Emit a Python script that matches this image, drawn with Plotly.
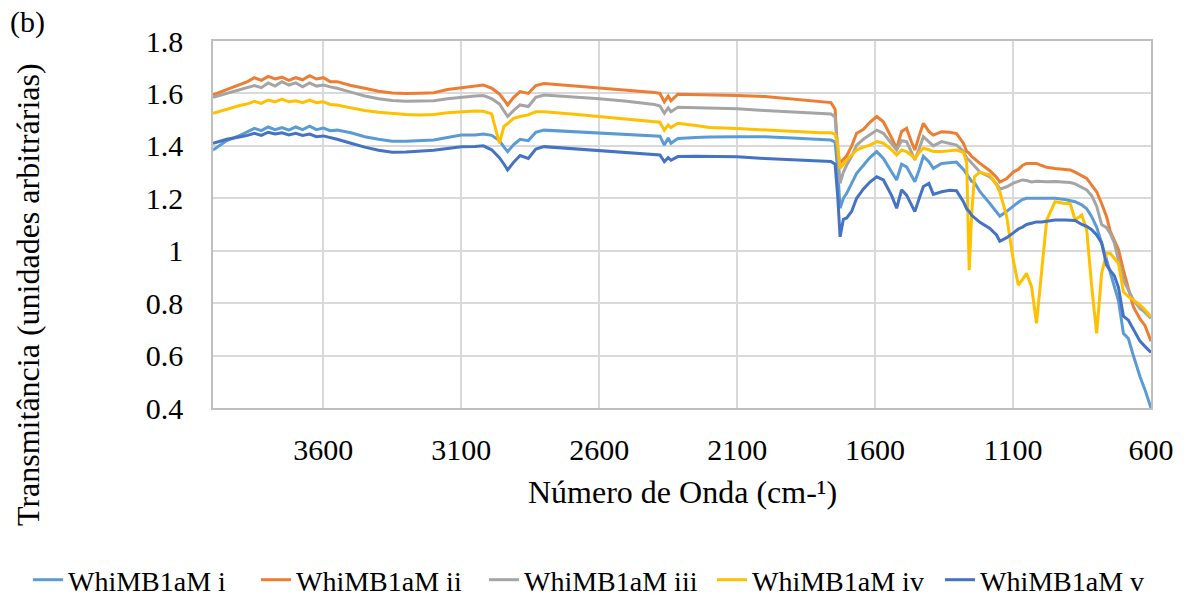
import plotly.graph_objects as go

wavenumber = [
    4000, 3950, 3900, 3875, 3850, 3825, 3800, 3775, 3750, 3725, 3700, 3675, 3650, 3625, 3600, 3575,
    3550, 3500, 3450, 3400, 3350, 3300, 3250, 3200, 3150, 3100, 3050, 3020, 2990,
    2962, 2945, 2932, 2910, 2887, 2857, 2830, 2800,
    2700, 2600, 2500, 2400, 2380, 2364, 2350, 2340, 2315, 2250, 2200, 2100, 2000, 1900, 1800,
    1760, 1745, 1735, 1727, 1715, 1703, 1685, 1667, 1643, 1619, 1594, 1570, 1540, 1522, 1504, 1486,
    1470, 1456, 1440, 1425, 1405, 1389, 1359,
    1330, 1305, 1280, 1268, 1259, 1250, 1240, 1220, 1184, 1160, 1148, 1123, 1099, 1081, 1066, 1051,
    1033, 1015, 996, 978,
    948, 912, 893, 875, 851, 833, 815, 797, 779, 761, 748, 733, 718, 700, 682, 664, 640, 622, 600,
]

whimb_i = [
    1.384, 1.420, 1.441, 1.455, 1.467, 1.458, 1.472, 1.462, 1.470, 1.460, 1.472, 1.462, 1.475, 1.462, 1.468, 1.458,
    1.460, 1.450, 1.435, 1.425, 1.418, 1.418, 1.420, 1.422, 1.432, 1.441, 1.441, 1.445, 1.440,
    1.420, 1.395, 1.378, 1.405, 1.425, 1.420, 1.452, 1.460,
    1.455, 1.450, 1.445, 1.440, 1.437, 1.403, 1.430, 1.410, 1.428, 1.432, 1.434, 1.435, 1.435, 1.430, 1.425,
    1.422, 1.415, 1.300, 1.162, 1.200, 1.219, 1.255, 1.295, 1.325, 1.355, 1.378, 1.352, 1.300, 1.270, 1.330, 1.320,
    1.290, 1.263, 1.310, 1.360, 1.340, 1.314, 1.333,
    1.336, 1.338, 1.310, 1.290, 1.275, 1.265, 1.260, 1.225, 1.180, 1.150, 1.132, 1.150, 1.172, 1.185, 1.195, 1.200,
    1.200, 1.200, 1.198, 1.200,
    1.200, 1.195, 1.190, 1.187, 1.175, 1.160, 1.130, 1.090, 1.030, 0.964, 0.914, 0.856, 0.810, 0.685, 0.665, 0.600, 0.520, 0.470, 0.400,
]

whimb_ii = [
    1.595, 1.615, 1.635, 1.645, 1.660, 1.650, 1.665, 1.655, 1.662, 1.650, 1.660, 1.652, 1.668, 1.655, 1.660, 1.645,
    1.645, 1.630, 1.620, 1.608, 1.602, 1.600, 1.601, 1.603, 1.615, 1.622, 1.628, 1.632, 1.620,
    1.598, 1.575, 1.556, 1.585, 1.607, 1.600, 1.630, 1.638,
    1.630, 1.622, 1.613, 1.604, 1.600, 1.568, 1.590, 1.572, 1.597, 1.596, 1.595, 1.592, 1.588, 1.578, 1.570,
    1.565, 1.540, 1.360, 1.335, 1.350, 1.362, 1.400, 1.448, 1.462, 1.490, 1.512, 1.492, 1.430, 1.390, 1.455, 1.467,
    1.420, 1.384, 1.440, 1.486, 1.455, 1.441, 1.454,
    1.452, 1.447, 1.410, 1.378, 1.372, 1.360, 1.350, 1.333, 1.305, 1.280, 1.262, 1.275, 1.300, 1.310, 1.325, 1.333,
    1.333, 1.333, 1.325, 1.318,
    1.314, 1.310, 1.308, 1.300, 1.285, 1.276, 1.250, 1.225, 1.180, 1.130, 1.075, 1.040, 1.005, 0.926, 0.860, 0.786, 0.740, 0.715, 0.655,
]

whimb_iii = [
    1.585, 1.600, 1.615, 1.625, 1.630, 1.622, 1.640, 1.628, 1.645, 1.632, 1.640, 1.625, 1.640, 1.628, 1.632, 1.625,
    1.620, 1.605, 1.590, 1.580, 1.573, 1.570, 1.570, 1.572, 1.580, 1.586, 1.590, 1.592, 1.580,
    1.560, 1.535, 1.512, 1.535, 1.556, 1.550, 1.585, 1.594,
    1.588, 1.580, 1.570, 1.558, 1.552, 1.524, 1.545, 1.530, 1.547, 1.545, 1.545, 1.542, 1.535, 1.530, 1.525,
    1.522, 1.510, 1.380, 1.257, 1.300, 1.327, 1.360, 1.403, 1.425, 1.441, 1.460, 1.448, 1.410, 1.384, 1.420, 1.416,
    1.380, 1.346, 1.390, 1.435, 1.415, 1.400, 1.416,
    1.408, 1.403, 1.380, 1.352, 1.345, 1.335, 1.325, 1.300, 1.282, 1.255, 1.235, 1.244, 1.258, 1.265, 1.270, 1.268,
    1.262, 1.265, 1.263, 1.263,
    1.264, 1.262, 1.260, 1.255, 1.240, 1.232, 1.210, 1.170, 1.100, 1.088, 1.066, 1.030, 0.964, 0.888, 0.850, 0.812, 0.780, 0.765, 0.742,
]

whimb_iv = [
    1.524, 1.540, 1.555, 1.560, 1.570, 1.562, 1.575, 1.568, 1.578, 1.568, 1.572, 1.565, 1.575, 1.565, 1.568, 1.558,
    1.556, 1.545, 1.535, 1.528, 1.523, 1.520, 1.518, 1.520, 1.526, 1.530, 1.533, 1.532, 1.522,
    1.410, 1.475, 1.485, 1.505, 1.512, 1.518, 1.530, 1.530,
    1.522, 1.512, 1.503, 1.494, 1.490, 1.460, 1.480, 1.470, 1.486, 1.478, 1.470, 1.466, 1.460, 1.455, 1.450,
    1.450, 1.445, 1.400, 1.314, 1.330, 1.346, 1.365, 1.384, 1.395, 1.403, 1.416, 1.410, 1.385, 1.365, 1.384, 1.378,
    1.365, 1.352, 1.375, 1.391, 1.385, 1.378, 1.378,
    1.382, 1.384, 1.375, 1.335, 0.926, 1.140, 1.282, 1.300, 1.289, 1.250, 1.225, 1.130, 0.964, 0.869, 0.890, 0.914,
    0.863, 0.723, 0.926, 1.117,
    1.187, 1.180, 1.180, 1.117, 1.136, 1.079, 0.863, 0.685, 0.914, 0.990, 0.990, 0.970, 0.952, 0.843, 0.825, 0.812, 0.793, 0.775, 0.748,
]

whimb_v = [
    1.410, 1.425, 1.435, 1.440, 1.448, 1.440, 1.452, 1.445, 1.450, 1.442, 1.448, 1.440, 1.445, 1.435, 1.438, 1.430,
    1.425, 1.410, 1.395, 1.383, 1.376, 1.377, 1.380, 1.383, 1.390, 1.397, 1.398, 1.400, 1.385,
    1.355, 1.330, 1.308, 1.338, 1.363, 1.352, 1.388, 1.397,
    1.390, 1.383, 1.376, 1.368, 1.365, 1.340, 1.355, 1.345, 1.359, 1.360, 1.360, 1.358, 1.352, 1.348, 1.342,
    1.340, 1.330, 1.200, 1.053, 1.120, 1.125, 1.150, 1.200, 1.235, 1.262, 1.282, 1.270, 1.210, 1.162, 1.232, 1.212,
    1.180, 1.149, 1.200, 1.245, 1.257, 1.215, 1.225,
    1.231, 1.229, 1.187, 1.160, 1.150, 1.135, 1.125, 1.108, 1.085, 1.060, 1.036, 1.050, 1.068, 1.083, 1.090, 1.100,
    1.105, 1.110, 1.110, 1.113,
    1.117, 1.117, 1.117, 1.115, 1.100, 1.093, 1.080, 1.060, 1.030, 0.945, 0.925, 0.905, 0.860, 0.750, 0.735, 0.700, 0.655, 0.635, 0.612,
]

series_names = ["WhiMB1aM i", "WhiMB1aM ii", "WhiMB1aM iii", "WhiMB1aM iv", "WhiMB1aM v"]
series_colors = ["#5B9BD5", "#ED7D31", "#A5A5A5", "#FFC000", "#4472C4"]
series_values = [whimb_i, whimb_ii, whimb_iii, whimb_iv, whimb_v]

x_ticks = [3600, 3100, 2600, 2100, 1600, 1100, 600]
y_ticks = [0.4, 0.6, 0.8, 1.0, 1.2, 1.4, 1.6, 1.8]
y_ticktext = ["0.4", "0.6", "0.8", "1", "1.2", "1.4", "1.6", "1.8"]

for v in series_values:
    assert len(v) == len(wavenumber)

fig = go.Figure()
for name, vals, col in zip(series_names, series_values, series_colors):
    fig.add_trace(go.Scatter(x=wavenumber, y=vals, mode="lines", name=name,
                             line=dict(color=col, width=3)))

FONT = "Liberation Serif"
W, H = 1188, 597
L, R, T, B = 213, 37, 41, 189
pw, ph = W - L - R, H - T - B

def px_x(x):
    return (x - L) / pw

def px_y(y):
    return (H - B - y) / ph

fig.update_layout(
    width=W, height=H,
    margin=dict(l=L, r=R, t=T, b=B, pad=0, autoexpand=False),
    paper_bgcolor="white", plot_bgcolor="white",
    font=dict(family=FONT, color="black", size=30),
    showlegend=True,
    legend=dict(orientation="h", xref="paper", yref="paper",
                x=px_x(28), xanchor="left", y=px_y(580), yanchor="middle",
                font=dict(size=28, family=FONT, color="black"),
                entrywidth=183, entrywidthmode="pixels",
                itemwidth=30, tracegroupgap=0, bgcolor="rgba(0,0,0,0)"),
    xaxis=dict(range=[4000, 600], tickvals=x_ticks, ticktext=[str(t) for t in x_ticks],
               showgrid=True, gridcolor="#d9d9d9", gridwidth=1.5,
               showline=True, linecolor="#bfbfbf", linewidth=1.5, mirror=True,
               ticks="outside", ticklen=14, tickcolor="rgba(0,0,0,0)",
               tickfont=dict(size=30, family=FONT, color="black"), zeroline=False),
    yaxis=dict(range=[0.4, 1.8], tickvals=y_ticks, ticktext=y_ticktext,
               showgrid=True, gridcolor="#d9d9d9", gridwidth=1.5,
               showline=True, linecolor="#bfbfbf", linewidth=1.5, mirror=True,
               ticks="outside", ticklen=22, tickcolor="rgba(0,0,0,0)",
               tickfont=dict(size=30, family=FONT, color="black"), zeroline=False),
    annotations=[
        dict(text="(b)", xref="paper", yref="paper", x=px_x(27), y=px_y(22),
             xanchor="center", yanchor="middle", showarrow=False,
             font=dict(size=30, family=FONT, color="black")),
        dict(text="Transmitância (unidades arbitrárias)", xref="paper", yref="paper",
             x=px_x(28), y=px_y(295), textangle=-90, xanchor="center", yanchor="middle",
             showarrow=False, font=dict(size=32, family=FONT, color="black")),
        dict(text="Número de Onda (cm-¹)", xref="paper", yref="paper",
             x=0.5, y=px_y(492), xanchor="center", yanchor="middle",
             showarrow=False, font=dict(size=32, family=FONT, color="black")),
    ],
)

fig.write_html("out.html", config={"displayModeBar": False},
               post_script="document.body.style.margin='0';")
